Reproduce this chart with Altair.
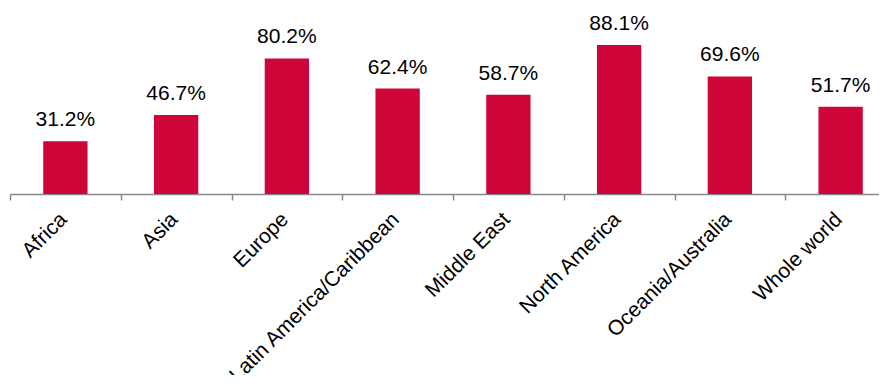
import altair as alt
import pandas as pd

regions = ["Africa", "Asia", "Europe", "Latin America/Caribbean", "Middle East",
           "North America", "Oceania/Australia", "Whole world"]
values = [31.2, 46.7, 80.2, 62.4, 58.7, 88.1, 69.6, 51.7]
labels = ["31.2%", "46.7%", "80.2%", "62.4%", "58.7%", "88.1%", "69.6%", "51.7%"]

df = pd.DataFrame({"region": regions, "value": values, "label": labels})

FONT = "Liberation Sans"
x = alt.X("region:N", sort=regions,
          scale=alt.Scale(range=[0, 886], paddingInner=0, paddingOuter=0),
          axis=alt.Axis(title=None, labelAngle=-45, labelFontSize=21, labelFont=FONT,
                        labelColor="#000000", domainColor="#888888", domainWidth=1.5,
                        tickColor="#888888", tickWidth=1.5, tickSize=6, tickBand="extent",
                        labelPadding=16, labelLimit=0, labelAlign="right",
                        labelBaseline="middle", labelOffset=-2))
y = alt.Y("value:Q", scale=alt.Scale(domain=[0, 100]), axis=None)

bars = alt.Chart(df).mark_bar(color="#CE0538", width=alt.RelativeBandSize(0.4)).encode(x=x, y=y)
text = alt.Chart(df).mark_text(baseline="alphabetic", dy=-15, fontSize=21, font=FONT,
                               color="#000000").encode(x=x, y=y, text="label:N")

chart = (bars + text).properties(
    width=869, height=169,
    autosize=alt.AutoSizeParams(type="none"),
    padding={"left": 2, "top": 17, "right": 0, "bottom": 181},
).configure_view(stroke=None)

chart.save("out.html", embed_options={"renderer": "svg", "actions": False})
